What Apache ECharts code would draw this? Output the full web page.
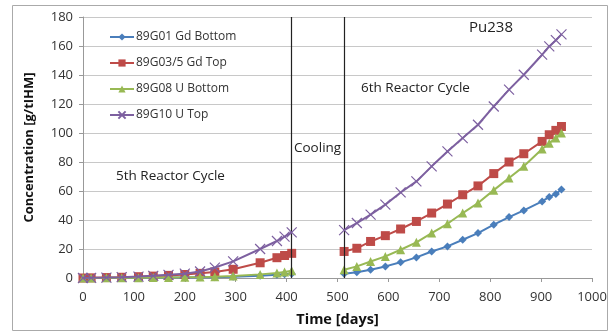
<!DOCTYPE html>
<html>
<head>
<meta charset="utf-8">
<script src="https://cdn.jsdelivr.net/npm/echarts@6/dist/echarts.min.js"></script>
<style>html,body{margin:0;padding:0;background:#fff}#c{width:610px;height:332px}</style>
</head>
<body>
<div id="c"></div>
<script>
// Time points (days)
const days5 = [0, 16, 46, 76, 109, 138, 168, 200, 230, 259, 295, 348, 381, 396, 410];
const days6 = [513, 538, 565, 594, 624, 655, 685, 716, 746, 776, 807, 837, 866, 902, 916, 929, 940];

// Series names
const names = ['89G01 Gd Bottom', '89G03/5 Gd Top', '89G08 U Bottom', '89G10 U Top'];

// Concentration [g/tIHM], 5th reactor cycle
const gdBottom5 = [0, 0, 0, 0.1, 0.1, 0.2, 0.3, 0.4, 0.5, 0.6, 0.9, 1.6, 2.2, 2.6, 3];
const gdTop5    = [0, 0.1, 0.3, 0.5, 0.9, 1.3, 1.8, 2.4, 3.2, 4.2, 6, 10.5, 14, 15.5, 17];
const uBottom5  = [0, 0, 0.1, 0.1, 0.2, 0.3, 0.4, 0.5, 0.7, 0.9, 1.3, 2.5, 3.5, 4.2, 5];
const uTop5     = [0, 0.1, 0.3, 0.6, 1, 1.5, 2.2, 3, 4.5, 7.2, 11.5, 20, 25.5, 28.5, 31.5];

// Concentration [g/tIHM], 6th reactor cycle
const gdBottom6 = [3, 4, 5.7, 8, 10.8, 14.2, 18.3, 21.8, 26.4, 31, 36.8, 42, 46.6, 52.8, 55.9, 58, 61];
const gdTop6    = [18.3, 20.5, 25.2, 29.2, 33.8, 39, 44.8, 51, 57.4, 63.5, 72, 80, 85.7, 94.2, 98.8, 101.8, 104.5];
const uBottom6  = [5.7, 8, 11.4, 14.9, 19.5, 24.6, 31, 37.4, 44.8, 51.7, 60.6, 69, 77, 89, 93, 96.5, 100];
const uTop6     = [33, 37.9, 43.7, 50.6, 59, 66.6, 77, 87.3, 96.5, 105.7, 118.3, 129.9, 140.2, 154, 159.7, 164, 168];

// Cycle boundaries (days)
const cycleBounds = [410, 513];

const colors = ['#4A7EBB', '#BE4B48', '#98B954', '#7D60A0'];
const crossPath = 'path://M0,0L10,10M10,0L0,10';
const symbols = ['diamond', 'rect', 'triangle', crossPath];
const symSizes = [8, 9, 9, 10];

const cyc5 = [gdBottom5, gdTop5, uBottom5, uTop5];
const cyc6 = [gdBottom6, gdTop6, uBottom6, uTop6];

function mk(name, i, xs, ys) {
  return {
    name: name, type: 'line',
    data: xs.map((x, k) => [x, ys[k]]),
    symbol: symbols[i], symbolSize: symSizes[i],
    lineStyle: { color: colors[i], width: 2 },
    itemStyle: i === 3 ? { color: 'rgba(0,0,0,0)', borderColor: colors[i], borderWidth: 1.2 }
                       : { color: colors[i], borderColor: colors[i], borderWidth: 0 },
    showAllSymbol: true,
    animation: false,
    z: 2 + i
  };
}

const series = [];
for (let i = 0; i < 4; i++) series.push(mk(names[i], i, days5, cyc5[i]));
for (let i = 0; i < 4; i++) series.push(mk(names[i], i, days6, cyc6[i]));
series.push({
  type: 'line', data: [], silent: true,
  markLine: {
    symbol: 'none', silent: true, animation: false,
    label: { show: false },
    lineStyle: { color: '#222', width: 1.2, type: 'solid' },
    data: cycleBounds.map(v => ({ xAxis: v }))
  }
});

const font = '"Open Sans", "DejaVu Sans", sans-serif';
const chart = echarts.init(document.getElementById('c'), null, { renderer: 'canvas' });
chart.setOption({
  animation: false,
  backgroundColor: '#fff',
  textStyle: { fontFamily: font },
  grid: { left: 83, right: 18, top: 17, bottom: 54 },
  legend: {
    orient: 'vertical', left: 104, top: 26, itemGap: 14,
    itemWidth: 24, itemHeight: 9,
    data: names,
    textStyle: { fontSize: 12, color: '#333', fontFamily: font, padding: [0, 0, 0, -3] }
  },
  xAxis: {
    type: 'value', min: 0, max: 1000, interval: 100,
    name: 'Time [days]', nameLocation: 'middle', nameGap: 34,
    nameTextStyle: { fontSize: 14.5, fontWeight: 'bold', color: '#111', fontFamily: font },
    axisLine: { show: true, onZero: false, lineStyle: { color: '#999' } },
    axisTick: { show: true, length: 4, lineStyle: { color: '#999' } },
    axisLabel: { fontSize: 13, color: '#333', margin: 13, formatter: v => String(v) },
    splitLine: { show: false }
  },
  yAxis: {
    type: 'value', min: 0, max: 180, interval: 20,
    name: 'Concentration [g/tIHM]', nameLocation: 'middle', nameGap: 47,
    nameTextStyle: { fontSize: 13, fontWeight: 'bold', color: '#111', fontFamily: font },
    axisLine: { show: true, lineStyle: { color: '#999' } },
    axisTick: { show: true, length: 4, lineStyle: { color: '#999' } },
    axisLabel: { fontSize: 13, color: '#333', margin: 10 },
    splitLine: { show: true, lineStyle: { color: '#c8c8c8', width: 1 } }
  },
  graphic: [
    { type: 'rect', shape: { x: 12.5, y: 5.5, width: 595, height: 325 }, style: { fill: 'none', stroke: '#aaa', lineWidth: 1 }, z: -10 },
    { type: 'text', left: 469, top: 20, style: { text: 'Pu238', fontSize: 15, fill: '#222', fontFamily: font } },
    { type: 'text', left: 361, top: 81, style: { text: '6th Reactor Cycle', fontSize: 13.5, fill: '#222', fontFamily: font } },
    { type: 'text', left: 294, top: 141, style: { text: 'Cooling', fontSize: 13.5, fill: '#222', fontFamily: font } },
    { type: 'text', left: 116, top: 169, style: { text: '5th Reactor Cycle', fontSize: 13.5, fill: '#222', fontFamily: font } }
  ],
  series: series
});
</script>
</body>
</html>
